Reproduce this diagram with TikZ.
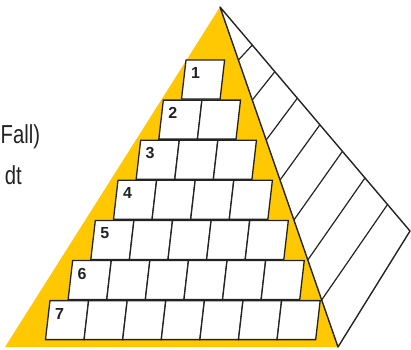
\documentclass[tikz,border=0pt]{standalone}
\usepackage{fontspec}
\setmainfont{Liberation Sans}
\newfontfamily\condfont[FakeStretch=0.78]{Liberation Sans}
\usetikzlibrary{calc}
\definecolor{pyryellow}{RGB}{255,200,0}
\definecolor{inkgray}{RGB}{35,35,35}
\tikzset{
  face/.style={draw=inkgray, line width=1.4pt, line join=round},
  band/.style={draw=inkgray, line width=1.2pt},
  brick/.style={draw=inkgray, fill=white, line width=1.3pt},
  rownum/.style={anchor=base, inner sep=0pt, text=inkgray,
                 font=\bfseries\fontsize{16}{16}\selectfont},
  sidetext/.style={inner sep=0pt, text=inkgray,
                   font=\condfont\fontsize{26}{26}\selectfont}
}

\begin{document}
\begin{tikzpicture}[x=1pt, y=-1pt]
  \useasboundingbox (0,0) rectangle (411,349);

  % corners of the pyramid
  \coordinate (apex)  at (220,7);
  \coordinate (baseL) at (5,347);
  \coordinate (baseR) at (338,347);
  \coordinate (side)  at (410,231);

  % yellow front face
  \fill[pyryellow] (apex) -- (baseL) -- (baseR) -- cycle;

  % right face and its bands
  \draw[face] (apex) -- (side) -- (baseR) -- cycle;
  \foreach \k in {0,...,6}{
    \draw[band] ($(apex)!{0.17+0.1186*\k}!(side)$)
             -- ($(apex)!{0.156+0.1176*\k}!(baseR)$);
  }

  % rows of bricks, row \r holds \r boxes
  \foreach \r in {1,...,7}{
    \pgfmathsetmacro{\xl}{186-22.67*(\r-1)}
    \pgfmathsetmacro{\yt}{60+40.1*(\r-1)}
    \foreach \c in {1,...,\r}{
      \draw[brick] ({\xl+38.6*(\c-1)},\yt) -- ++(38.6,0)
                   -- ++(-4.5,39) -- ++(-38.6,0) -- cycle;
    }
    \node[rownum] (num\r) at ({\xl+9.5},{\yt+18.5}) {\r};
  }

  % labels on the left
  \node[sidetext, anchor=base west] (fall) at (0.5,143) {Fall)};
  \node[sidetext, anchor=base east] (dt)   at (22,184) {dt};

\end{tikzpicture}
\end{document}
